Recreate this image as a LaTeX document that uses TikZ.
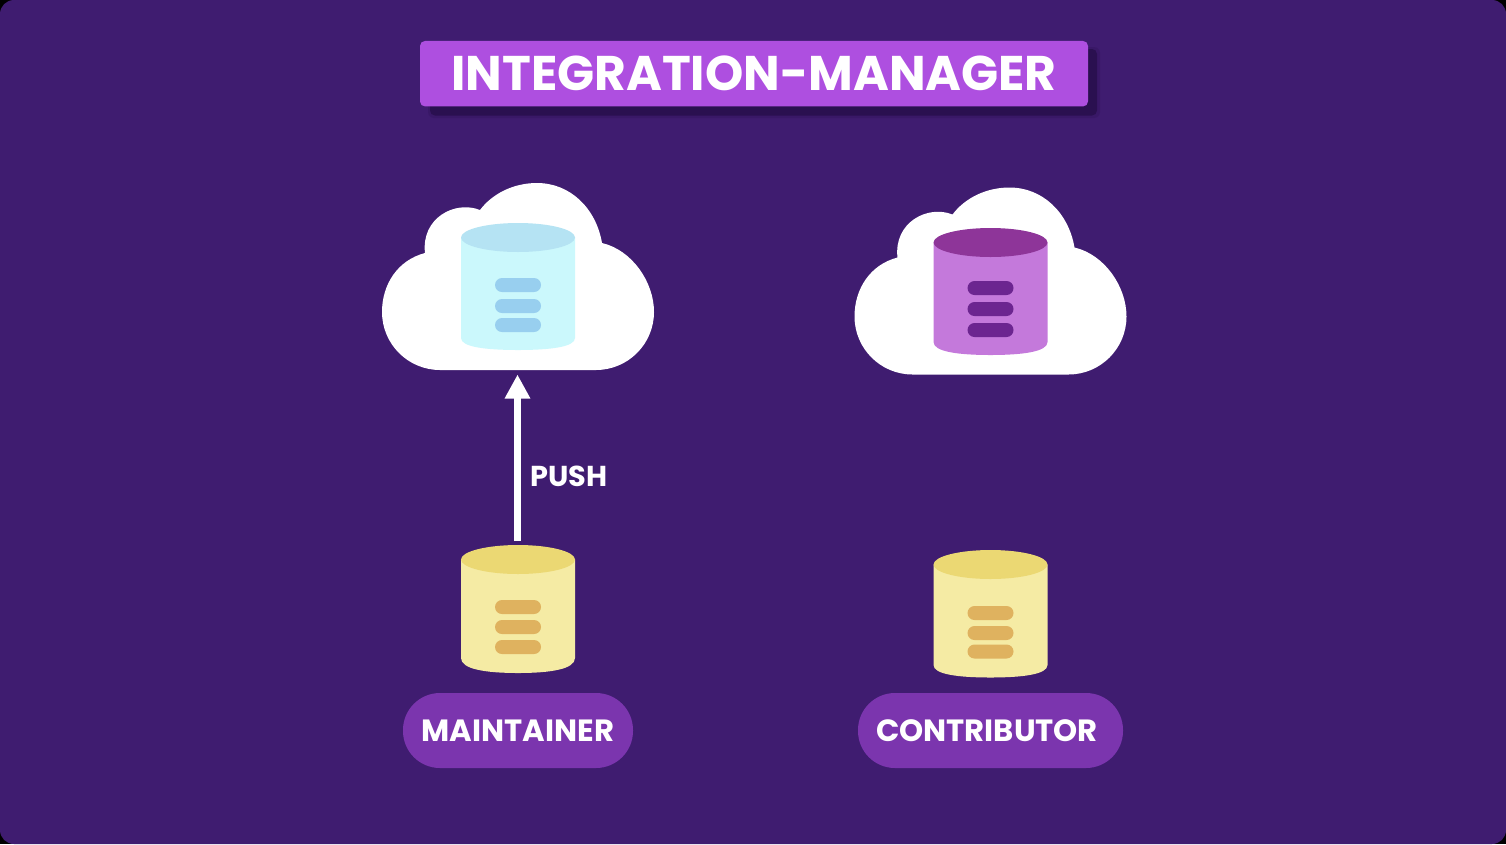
\documentclass[tikz,border=0pt]{standalone}
\usepackage{fontspec}
\setmainfont{Poppins}
\usetikzlibrary{arrows.meta}
\definecolor{bgp}{HTML}{3F1C70}
\definecolor{titlep}{HTML}{AE4FE0}
\definecolor{shadowp}{HTML}{2A1050}
\definecolor{pillp}{HTML}{7B35AE}
\definecolor{blueB}{HTML}{CBF8FC}
\definecolor{blueT}{HTML}{B5E3F3}
\definecolor{blueS}{HTML}{98CFEF}
\definecolor{yelB}{HTML}{F5EBA4}
\definecolor{yelT}{HTML}{EBD873}
\definecolor{yelS}{HTML}{DFB25F}
\definecolor{purB}{HTML}{C479DB}
\definecolor{purT}{HTML}{8E3599}
\definecolor{purS}{HTML}{6C2590}
\tikzset{
  titlebox/.style={fill=titlep,rounded corners=5pt,minimum width=668pt,minimum height=65.5pt,inner sep=0pt,text=white,font=\fontsize{48.7}{48.7}\selectfont\bfseries},
  pill/.style={fill=pillp,rounded corners=37pt,minimum height=75pt,inner sep=0pt,text=white,font=\fontsize{30.7}{30.7}\selectfont\bfseries},
  flow/.style={draw=white,line width=6.5pt,-{Triangle[length=24pt,width=24pt,fill=white]}},
  lbl/.style={text=white,font=\fontsize{28.8}{28.8}\selectfont\bfseries,inner sep=0pt}
}
% x-offset, top y, side end y, bottom y, colour prefix, three bar tops
\newcommand{\repoDrum}[8]{%
  \begin{scope}[xshift=#1pt]
    \fill[#5B] (461,#2+14.5) -- (461,#3) .. controls (461,#3+0.75*#4-0.75*#3) and (486,#4) .. (518,#4)
       .. controls (550,#4) and (575,#3+0.75*#4-0.75*#3) .. (575,#3) -- (575,#2+14.5) -- cycle;
    \fill[#5T] (518,#2+14.5) ellipse [x radius=57,y radius=14.5];
    \fill[#5S,rounded corners=7pt] (495,#6) rectangle (541,#6+14);
    \fill[#5S,rounded corners=7pt] (495,#7) rectangle (541,#7+14);
    \fill[#5S,rounded corners=7pt] (495,#8) rectangle (541,#8+14);
  \end{scope}}
\newcommand{\cloudShape}[2]{%
  \begin{scope}[shift={(#1,#2)}]
    \fill[white] (440,370) -- (596,370)
      .. controls (628,370) and (654,344) .. (654,312)
      .. controls (654,282) and (632,250) .. (602,243)
      .. controls (596,208) and (570,183) .. (537,183)
      .. controls (513,183) and (492,194) .. (480,210)
      .. controls (455,200) and (421,218) .. (425,253)
      .. controls (398,260) and (382,284) .. (382,312)
      .. controls (382,344) and (408,370) .. (440,370) -- cycle;
  \end{scope}}
\begin{document}
\begin{tikzpicture}[x=1pt,y=-1pt]
  \useasboundingbox (0,0) rectangle (1506,844);
  \fill[black] (0,0) rectangle (1506,844);
  \fill[bgp,rounded corners=14pt] (0,0) rectangle (1506,844);
  % title
  \fill[shadowp,opacity=0.25,rounded corners=6pt] (428,47) rectangle (1100,118);
  \fill[shadowp,rounded corners=5pt] (430,49) rectangle (1097,115.5);
  \node[titlebox] (title) at (754,73.7) {INTEGRATION-MANAGER};
  % clouds and repositories
  \cloudShape{0}{0}
  \cloudShape{472.5}{4.5}
  \repoDrum{0}{223}{338}{350}{blue}{278}{299}{318}
  \repoDrum{472.5}{228}{342}{355}{pur}{281}{302}{323}
  \repoDrum{0}{545}{658}{673}{yel}{600}{620}{640}
  \repoDrum{472.5}{550}{665}{677.5}{yel}{606}{626}{644.5}
  \coordinate (originCloud) at (517.5,374.5);
  \coordinate (maintRepo) at (517.5,541);
  \draw[flow] (maintRepo) -- (originCloud);
  \node[lbl,anchor=west] (push) at (530,476.5) {PUSH};
  % roles
  \node[pill,minimum width=230pt] (maint) at (518,730.5) {\raisebox{-0.7pt}{MAINTAINER}};
  \node[pill,minimum width=265pt] (contrib) at (990.5,730.5) {\hspace{-7pt}\raisebox{-0.7pt}{CONTRIBUTOR}};
\end{tikzpicture}
\end{document}
